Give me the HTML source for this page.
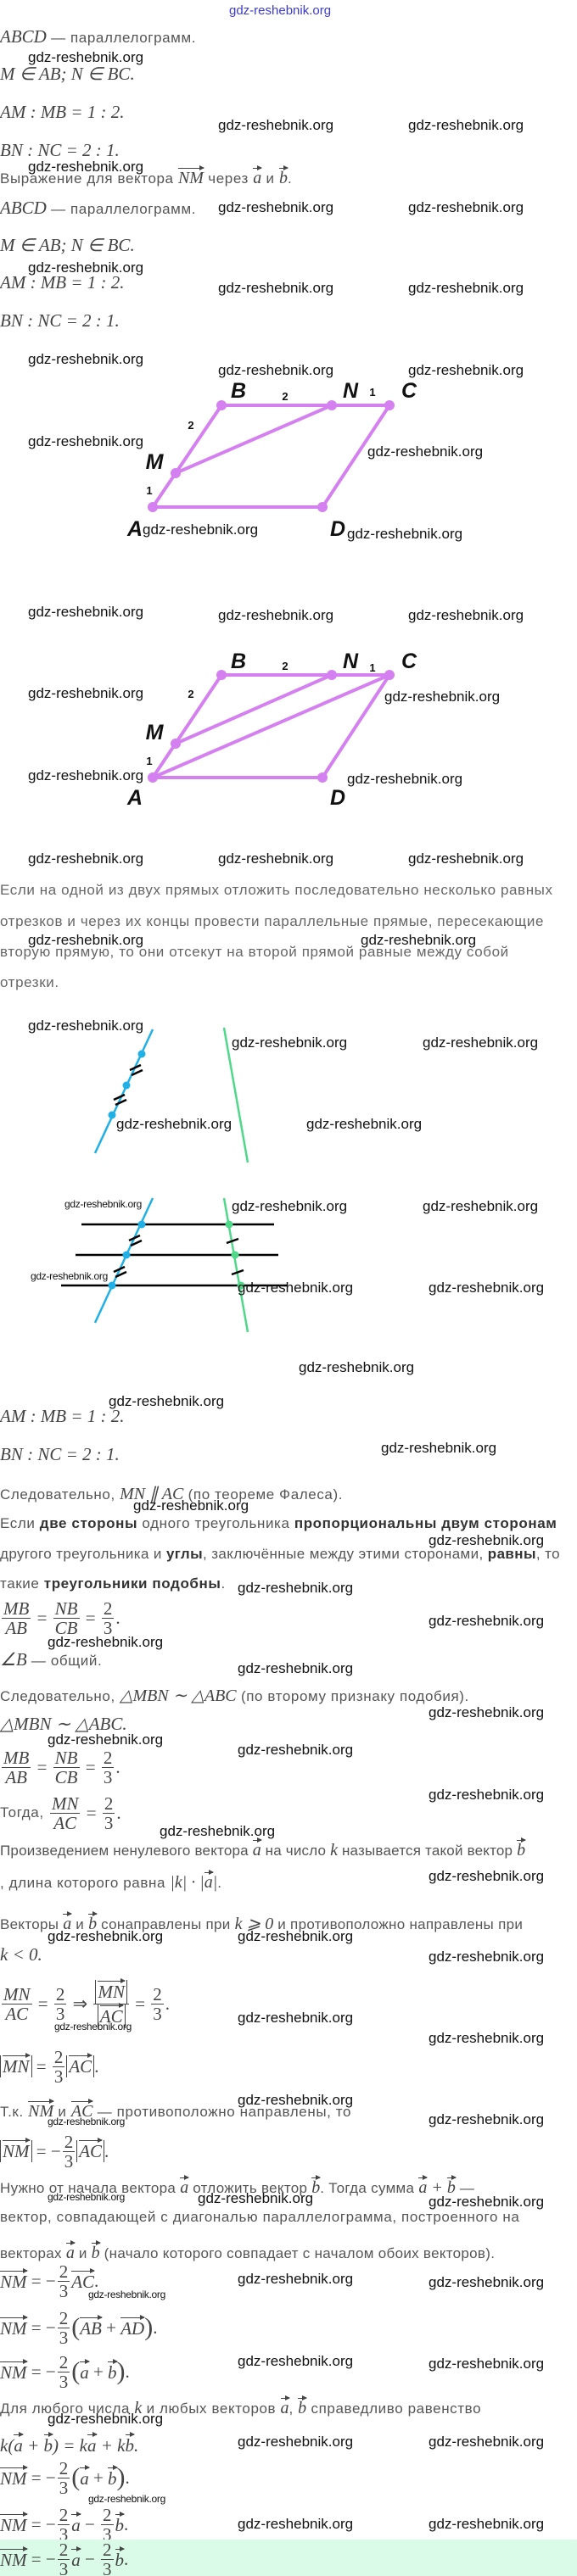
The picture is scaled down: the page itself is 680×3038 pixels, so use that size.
<!DOCTYPE html>
<html><head><meta charset="utf-8">
<style>
body{margin:0;background:#fff;}
#p{position:relative;width:680px;height:3038px;overflow:hidden;background:#fff;}
.t{position:absolute;white-space:nowrap;font-family:"Liberation Sans",sans-serif;font-size:17px;letter-spacing:0.6px;font-style:normal;color:#555;line-height:20px;}
.m{position:absolute;white-space:nowrap;font-family:"Liberation Serif",serif;font-style:italic;font-size:21px;color:#444;line-height:24px;}
.mi{font-family:"Liberation Serif",serif;font-style:italic;font-size:20px;letter-spacing:0;color:#444;}
.n{font-style:normal;}
.w{position:absolute;white-space:nowrap;font-family:"Liberation Sans",sans-serif;font-size:17px;color:#111;line-height:20px;font-style:normal;}
.ws{position:absolute;white-space:nowrap;font-family:"Liberation Sans Narrow","Liberation Sans",sans-serif;font-size:12px;color:#111;line-height:14px;letter-spacing:-0.3px;}
.v{position:relative;display:inline-block;border-top:1px solid #444;line-height:1.05;padding-top:1px;}
.v::after{content:"";position:absolute;right:-1px;top:-4px;border-left:6px solid #444;border-top:3.5px solid transparent;border-bottom:3.5px solid transparent;}
.f{display:inline-flex;flex-direction:column;vertical-align:middle;text-align:center;line-height:22px;margin:0 2px;}
.f>span:first-child{border-bottom:1px solid #444;padding:0 2px;}
.fl{position:absolute;white-space:nowrap;display:flex;align-items:center;font-family:"Liberation Serif",serif;font-style:italic;font-size:21px;color:#444;}
.ab{display:inline-block;border-left:1px solid #444;border-right:1px solid #444;padding:0 2px;}
b{color:#333;}
</style></head><body><div id="p">

<svg width="680" height="3038" style="position:absolute;left:0;top:0" xmlns="http://www.w3.org/2000/svg">
<g stroke="#d580f0" stroke-width="4" fill="none" stroke-linejoin="round">
<polygon points="180,598 261,478 459,478 380,598"/>
<line x1="207" y1="558" x2="391" y2="478"/>
<polygon points="180,917 261,796 459,796 380,917"/>
<line x1="207" y1="877" x2="391" y2="796"/>
<line x1="180" y1="917" x2="459" y2="796"/>
</g>
<g fill="#d580f0">
<circle cx="180" cy="598" r="6"/><circle cx="261" cy="478" r="6"/><circle cx="391" cy="478" r="6"/><circle cx="459" cy="478" r="6"/><circle cx="207" cy="558" r="6"/><circle cx="380" cy="598" r="6"/>
<circle cx="180" cy="917" r="6"/><circle cx="261" cy="796" r="6"/><circle cx="391" cy="796" r="6"/><circle cx="459" cy="796" r="6"/><circle cx="207" cy="877" r="6"/><circle cx="380" cy="917" r="6"/>
</g>
<g font-family="Liberation Sans Narrow, Liberation Sans, sans-serif" font-style="italic" font-weight="bold" font-size="25" fill="#111" text-anchor="middle">
<text x="281" y="469">B</text><text x="413" y="469">N</text><text x="482" y="469">C</text><text x="182" y="553">M</text><text x="159" y="632">A</text><text x="398" y="632">D</text>
<text x="281" y="788">B</text><text x="413" y="788">N</text><text x="482" y="788">C</text><text x="182" y="872">M</text><text x="159" y="949">A</text><text x="398" y="949">D</text>
</g>
<g font-family="Liberation Sans, sans-serif" font-weight="bold" font-size="13" fill="#111" text-anchor="middle">
<text x="336" y="472">2</text><text x="439" y="467">1</text><text x="225" y="506">2</text><text x="176" y="583">1</text>
<text x="336" y="790">2</text><text x="439" y="792">1</text><text x="225" y="823">2</text><text x="176" y="902">1</text>
</g>
<line x1="180" y1="1214" x2="112" y2="1360" stroke="#1fb0e6" stroke-width="2.5"/>
<line x1="264" y1="1212" x2="292" y2="1371" stroke="#4fd88a" stroke-width="2.5"/>
<g fill="#1fb0e6"><circle cx="167" cy="1243" r="4.5"/><circle cx="149" cy="1280" r="4.5"/><circle cx="132" cy="1315" r="4.5"/></g>
<g stroke="#000" stroke-width="2.5">
<line x1="153" y1="1262" x2="166" y2="1256"/><line x1="155" y1="1268" x2="168" y2="1262"/>
<line x1="134" y1="1297" x2="147" y2="1291"/><line x1="136" y1="1303" x2="149" y2="1297"/>
</g>
<g stroke="#000" stroke-width="2.5">
<line x1="96" y1="1444" x2="323" y2="1444"/><line x1="89" y1="1480" x2="328" y2="1480"/><line x1="72" y1="1516" x2="339" y2="1516"/>
</g>
<line x1="180" y1="1413" x2="112" y2="1560" stroke="#1fb0e6" stroke-width="2.5"/>
<line x1="264" y1="1413" x2="292" y2="1571" stroke="#4fd88a" stroke-width="2.5"/>
<g fill="#1fb0e6"><circle cx="167" cy="1444" r="4.5"/><circle cx="149" cy="1480" r="4.5"/><circle cx="132" cy="1516" r="4.5"/></g>
<g fill="#4fd88a"><circle cx="270" cy="1444" r="4.5"/><circle cx="277" cy="1480" r="4.5"/><circle cx="284" cy="1516" r="4.5"/></g>
<g stroke="#000" stroke-width="2.5">
<line x1="152" y1="1463" x2="165" y2="1457"/><line x1="154" y1="1469" x2="167" y2="1463"/>
<line x1="134" y1="1500" x2="147" y2="1494"/><line x1="136" y1="1506" x2="149" y2="1500"/>
<line x1="267" y1="1466" x2="281" y2="1461"/>
<line x1="273" y1="1503" x2="287" y2="1498"/>
</g>
</svg>

<div class="w" style="left:270px;top:3px;font-size:15px;color:#3a3ad6;">gdz-reshebnik.org</div>

<div class="m" style="left:0;top:31px">ABCD <span class="t" style="position:static">— параллелограмм.</span></div>
<div class="w" style="left:33px;top:58px">gdz-reshebnik.org</div>
<div class="m" style="left:0;top:75px">M ∈ AB; N ∈ BC.</div>
<div class="m" style="left:0;top:120px">AM : MB = 1 : 2.</div>
<div class="w" style="left:257px;top:138px">gdz-reshebnik.org</div>
<div class="w" style="left:481px;top:138px">gdz-reshebnik.org</div>
<div class="m" style="left:0;top:165px">BN : NC = 2 : 1.</div>
<div class="w" style="left:33px;top:187px">gdz-reshebnik.org</div>
<div class="t" style="left:0;top:198px">Выражение для вектора <span class="mi v">NM</span> через <span class="mi v">a</span> и <span class="mi v">b</span>.</div>
<div class="m" style="left:0;top:233px">ABCD <span class="t" style="position:static">— параллелограмм.</span></div>
<div class="w" style="left:257px;top:235px">gdz-reshebnik.org</div>
<div class="w" style="left:481px;top:235px">gdz-reshebnik.org</div>
<div class="m" style="left:0;top:277px">M ∈ AB; N ∈ BC.</div>
<div class="w" style="left:33px;top:306px">gdz-reshebnik.org</div>
<div class="m" style="left:0;top:321px">AM : MB = 1 : 2.</div>
<div class="w" style="left:257px;top:330px">gdz-reshebnik.org</div>
<div class="w" style="left:481px;top:330px">gdz-reshebnik.org</div>
<div class="m" style="left:0;top:366px">BN : NC = 2 : 1.</div>

<div class="w" style="left:33px;top:414px">gdz-reshebnik.org</div>
<div class="w" style="left:257px;top:427px">gdz-reshebnik.org</div>
<div class="w" style="left:481px;top:427px">gdz-reshebnik.org</div>
<div class="w" style="left:33px;top:511px">gdz-reshebnik.org</div>
<div class="w" style="left:433px;top:523px">gdz-reshebnik.org</div>
<div class="w" style="left:168px;top:615px">gdz-reshebnik.org</div>
<div class="w" style="left:409px;top:620px">gdz-reshebnik.org</div>

<div class="w" style="left:33px;top:712px">gdz-reshebnik.org</div>
<div class="w" style="left:257px;top:716px">gdz-reshebnik.org</div>
<div class="w" style="left:481px;top:716px">gdz-reshebnik.org</div>
<div class="w" style="left:33px;top:808px">gdz-reshebnik.org</div>
<div class="w" style="left:453px;top:812px">gdz-reshebnik.org</div>
<div class="w" style="left:33px;top:905px">gdz-reshebnik.org</div>
<div class="w" style="left:409px;top:909px">gdz-reshebnik.org</div>

<div class="w" style="left:33px;top:1003px">gdz-reshebnik.org</div>
<div class="w" style="left:257px;top:1003px">gdz-reshebnik.org</div>
<div class="w" style="left:481px;top:1003px">gdz-reshebnik.org</div>
<div class="t" style="left:0;top:1040px;color:#666">Если на одной из двух прямых отложить последовательно несколько равных</div>
<div class="t" style="left:0;top:1077px;color:#666">отрезков и через их концы провести параллельные прямые, пересекающие</div>
<div class="w" style="left:33px;top:1099px">gdz-reshebnik.org</div>
<div class="w" style="left:425px;top:1099px">gdz-reshebnik.org</div>
<div class="t" style="left:0;top:1113px;color:#666">вторую прямую, то они отсекут на второй прямой равные между собой</div>
<div class="t" style="left:0;top:1149px;color:#666">отрезки.</div>

<div class="w" style="left:33px;top:1200px">gdz-reshebnik.org</div>
<div class="w" style="left:273px;top:1220px">gdz-reshebnik.org</div>
<div class="w" style="left:498px;top:1220px">gdz-reshebnik.org</div>
<div class="w" style="left:137px;top:1316px">gdz-reshebnik.org</div>
<div class="w" style="left:361px;top:1316px">gdz-reshebnik.org</div>
<div class="ws" style="left:76px;top:1413px">gdz-reshebnik.org</div>
<div class="w" style="left:273px;top:1413px">gdz-reshebnik.org</div>
<div class="w" style="left:498px;top:1413px">gdz-reshebnik.org</div>
<div class="ws" style="left:36px;top:1498px">gdz-reshebnik.org</div>
<div class="w" style="left:280px;top:1509px">gdz-reshebnik.org</div>
<div class="w" style="left:505px;top:1509px">gdz-reshebnik.org</div>

<div class="w" style="left:352px;top:1603px">gdz-reshebnik.org</div>
<div class="w" style="left:128px;top:1643px">gdz-reshebnik.org</div>
<div class="m" style="left:0;top:1658px">AM : MB = 1 : 2.</div>
<div class="w" style="left:449px;top:1698px">gdz-reshebnik.org</div>
<div class="m" style="left:0;top:1703px">BN : NC = 2 : 1.</div>
<div class="t" style="left:0;top:1752px">Следовательно, <span class="mi">MN ∥ AC</span> (по теореме Фалеса).</div>
<div class="w" style="left:157px;top:1766px">gdz-reshebnik.org</div>
<div class="t" style="left:0;top:1787px">Если <b>две стороны</b> одного треугольника <b>пропорциональны двум сторонам</b></div>
<div class="w" style="left:505px;top:1807px">gdz-reshebnik.org</div>
<div class="t" style="left:0;top:1823px;letter-spacing:0.4px">другого треугольника и <b>углы</b>, заключённые между этими сторонами, <b>равны</b>, то</div>
<div class="t" style="left:0;top:1858px">такие <b>треугольники подобны</b>.</div>
<div class="w" style="left:280px;top:1863px">gdz-reshebnik.org</div>
<div class="fl" style="left:0;top:1883px;height:50px"><span class="f"><span>MB</span><span>AB</span></span>&nbsp;<span class="n">=</span>&nbsp;<span class="f"><span>NB</span><span>CB</span></span>&nbsp;<span class="n">=</span>&nbsp;<span class="f n"><span>2</span><span>3</span></span><span class="n">.</span></div>
<div class="w" style="left:505px;top:1902px">gdz-reshebnik.org</div>
<div class="w" style="left:56px;top:1927px">gdz-reshebnik.org</div>
<div class="m" style="left:0;top:1945px">∠B <span class="t" style="position:static">— общий.</span></div>
<div class="w" style="left:280px;top:1958px">gdz-reshebnik.org</div>
<div class="t" style="left:0;top:1990px">Следовательно, <span class="mi">△MBN ∼ △ABC</span> (по второму признаку подобия).</div>
<div class="w" style="left:505px;top:2010px">gdz-reshebnik.org</div>
<div class="m" style="left:0;top:2021px">△MBN ∼ △ABC.</div>
<div class="w" style="left:56px;top:2042px">gdz-reshebnik.org</div>
<div class="w" style="left:280px;top:2054px">gdz-reshebnik.org</div>
<div class="fl" style="left:0;top:2059px;height:50px"><span class="f"><span>MB</span><span>AB</span></span>&nbsp;<span class="n">=</span>&nbsp;<span class="f"><span>NB</span><span>CB</span></span>&nbsp;<span class="n">=</span>&nbsp;<span class="f n"><span>2</span><span>3</span></span><span class="n">.</span></div>
<div class="w" style="left:505px;top:2107px">gdz-reshebnik.org</div>
<div class="fl" style="left:0;top:2113px;height:50px"><span class="t" style="position:static">Тогда,&nbsp;</span><span class="f"><span>MN</span><span>AC</span></span>&nbsp;<span class="n">=</span>&nbsp;<span class="f n"><span>2</span><span>3</span></span><span class="n">.</span></div>
<div class="w" style="left:188px;top:2150px">gdz-reshebnik.org</div>
<div class="t" style="left:0;top:2170px;letter-spacing:0.2px">Произведением ненулевого вектора <span class="mi v">a</span> на число <span class="mi">k</span> называется такой вектор <span class="mi v">b</span></div>
<div class="w" style="left:505px;top:2203px">gdz-reshebnik.org</div>
<div class="t" style="left:0;top:2208px">, длина которого равна <span class="mi">|k| · |<span class="v">a</span>|</span>.</div>
<div class="t" style="left:0;top:2257px;letter-spacing:0.3px">Векторы <span class="mi v">a</span> и <span class="mi v">b</span> сонаправлены при <span class="mi">k ⩾ 0</span> и противоположно направлены при</div>
<div class="w" style="left:56px;top:2274px">gdz-reshebnik.org</div>
<div class="w" style="left:280px;top:2274px">gdz-reshebnik.org</div>
<div class="m" style="left:0;top:2293px">k &lt; 0.</div>
<div class="w" style="left:505px;top:2298px">gdz-reshebnik.org</div>
<div class="fl" style="left:0;top:2333px;height:60px"><span class="f"><span>MN</span><span>AC</span></span>&nbsp;<span class="n">=</span>&nbsp;<span class="f n"><span>2</span><span>3</span></span>&nbsp;<span class="n">⇒</span>&nbsp;<span class="f" style="line-height:28px"><span><span class="ab"><span class="v">MN</span></span></span><span><span class="ab"><span class="v">AC</span></span></span></span>&nbsp;<span class="n">=</span>&nbsp;<span class="f n"><span>2</span><span>3</span></span><span class="n">.</span></div>
<div class="ws" style="left:64px;top:2383px">gdz-reshebnik.org</div>
<div class="w" style="left:280px;top:2370px">gdz-reshebnik.org</div>
<div class="w" style="left:505px;top:2394px">gdz-reshebnik.org</div>
<div class="fl" style="left:0;top:2412px;height:50px"><span class="ab"><span class="v">MN</span></span>&nbsp;<span class="n">=</span>&nbsp;<span class="f n"><span>2</span><span>3</span></span><span class="ab"><span class="v">AC</span></span><span class="n">.</span></div>
<div class="w" style="left:280px;top:2467px">gdz-reshebnik.org</div>
<div class="t" style="left:0;top:2478px">Т.к. <span class="mi v">NM</span> и <span class="mi v">AC</span> — противоположно направлены, то</div>
<div class="w" style="left:505px;top:2490px">gdz-reshebnik.org</div>
<div class="ws" style="left:56px;top:2495px">gdz-reshebnik.org</div>
<div class="fl" style="left:0;top:2512px;height:50px"><span class="ab"><span class="v">NM</span></span>&nbsp;<span class="n">= −</span><span class="f n"><span>2</span><span>3</span></span><span class="ab"><span class="v">AC</span></span><span class="n">.</span></div>

<div class="t" style="left:0;top:2568px;letter-spacing:0.3px">Нужно от начала вектора <span class="mi v">a</span> отложить вектор <span class="mi v">b</span>. Тогда сумма <span class="mi"><span class="v">a</span> + <span class="v">b</span></span> —</div>
<div class="ws" style="left:56px;top:2584px">gdz-reshebnik.org</div>
<div class="w" style="left:233px;top:2583px">gdz-reshebnik.org</div>
<div class="w" style="left:505px;top:2587px">gdz-reshebnik.org</div>
<div class="t" style="left:0;top:2605px">вектор, совпадающей с диагональю параллелограмма, построенного на</div>
<div class="t" style="left:0;top:2645px;letter-spacing:0.3px">векторах <span class="mi v">a</span> и <span class="mi v">b</span> (начало которого совпадает с началом обоих векторов).</div>
<div class="fl" style="left:0;top:2665px;height:50px"><span class="v">NM</span>&nbsp;<span class="n">= −</span><span class="f n"><span>2</span><span>3</span></span><span class="v">AC</span><span class="n">.</span></div>
<div class="ws" style="left:104px;top:2699px">gdz-reshebnik.org</div>
<div class="w" style="left:280px;top:2678px">gdz-reshebnik.org</div>
<div class="w" style="left:505px;top:2682px">gdz-reshebnik.org</div>
<div class="fl" style="left:0;top:2720px;height:50px"><span class="v">NM</span>&nbsp;<span class="n">= −</span><span class="f n"><span>2</span><span>3</span></span><span class="n" style="font-size:30px">(</span><span class="v">AB</span>&nbsp;<span class="n">+</span>&nbsp;<span class="v">AD</span><span class="n" style="font-size:30px">)</span><span class="n">.</span></div>
<div class="fl" style="left:0;top:2772px;height:50px"><span class="v">NM</span>&nbsp;<span class="n">= −</span><span class="f n"><span>2</span><span>3</span></span><span class="n" style="font-size:30px">(</span><span class="v">a</span>&nbsp;<span class="n">+</span>&nbsp;<span class="v">b</span><span class="n" style="font-size:30px">)</span><span class="n">.</span></div>
<div class="w" style="left:280px;top:2775px">gdz-reshebnik.org</div>
<div class="w" style="left:505px;top:2778px">gdz-reshebnik.org</div>
<div class="t" style="left:0;top:2828px">Для любого числа <span class="mi">k</span> и любых векторов <span class="mi v">a</span>, <span class="mi v">b</span> справедливо равенство</div>
<div class="w" style="left:56px;top:2843px">gdz-reshebnik.org</div>
<div class="m" style="left:0;top:2871px">k(<span class="v">a</span> + <span class="v">b</span>) = k<span class="v">a</span> + k<span class="v">b</span>.</div>
<div class="w" style="left:280px;top:2870px">gdz-reshebnik.org</div>
<div class="w" style="left:505px;top:2870px">gdz-reshebnik.org</div>
<div class="fl" style="left:0;top:2897px;height:50px"><span class="v">NM</span>&nbsp;<span class="n">= −</span><span class="f n"><span>2</span><span>3</span></span><span class="n" style="font-size:30px">(</span><span class="v">a</span>&nbsp;<span class="n">+</span>&nbsp;<span class="v">b</span><span class="n" style="font-size:30px">)</span><span class="n">.</span></div>
<div class="ws" style="left:104px;top:2940px">gdz-reshebnik.org</div>
<div class="fl" style="left:0;top:2952px;height:50px"><span class="v">NM</span>&nbsp;<span class="n">= −</span><span class="f n"><span>2</span><span>3</span></span><span class="v">a</span>&nbsp;<span class="n">−</span>&nbsp;<span class="f n"><span>2</span><span>3</span></span><span class="v">b</span><span class="n">.</span></div>
<div class="w" style="left:280px;top:2967px">gdz-reshebnik.org</div>
<div class="w" style="left:505px;top:2967px">gdz-reshebnik.org</div>
<div style="position:absolute;left:0;top:2995px;width:680px;height:43px;background:#d9fbe8"></div>
<div class="fl" style="left:0;top:2993px;height:50px"><span class="v">NM</span>&nbsp;<span class="n">= −</span><span class="f n"><span>2</span><span>3</span></span><span class="v">a</span>&nbsp;<span class="n">−</span>&nbsp;<span class="f n"><span>2</span><span>3</span></span><span class="v">b</span><span class="n">.</span></div>

</div></body></html>
